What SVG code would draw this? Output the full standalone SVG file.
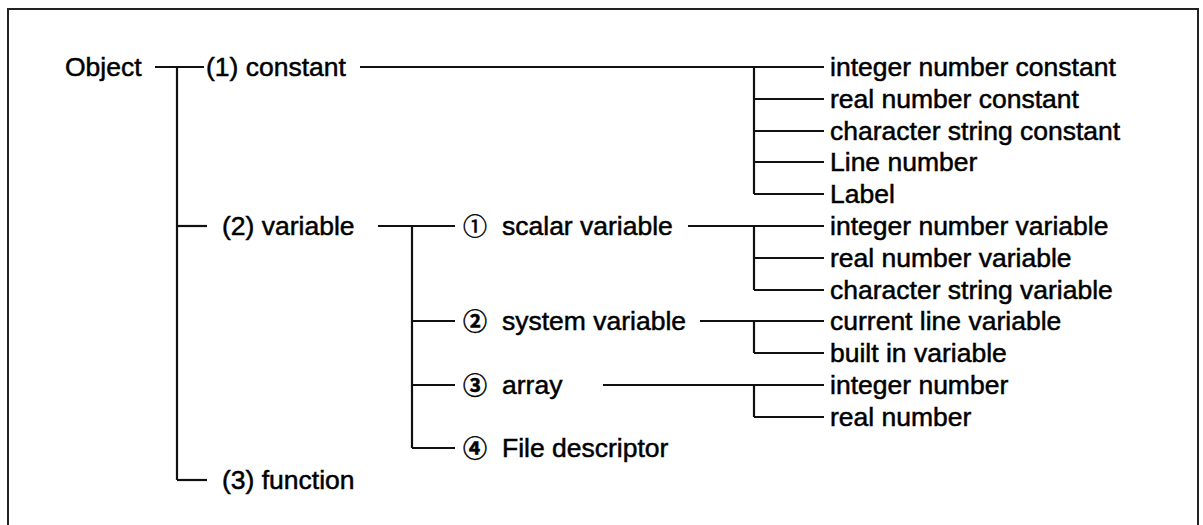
<svg xmlns="http://www.w3.org/2000/svg" width="1203" height="525" viewBox="0 0 1203 525">
<style>
text{font-family:"Liberation Sans","DejaVu Sans",sans-serif;font-size:26.5px;fill:#000;stroke:#000;stroke-width:0.5}
.cd{font-family:"Noto Sans CJK JP","DejaVu Sans",sans-serif;font-size:24px}
.cb{font-weight:bold}
.c line{stroke:#111;stroke-width:2.2;fill:none}
</style>
<rect width="1203" height="525" fill="#fff"/>
<path d="M8,525 V9 H1198 V525" stroke="#222" stroke-width="2" fill="none"/>
<g class="c" id="connectors">
<line x1="155" y1="67" x2="204" y2="67"/>
<line x1="177" y1="67" x2="177" y2="480"/>
<line x1="177" y1="226" x2="207" y2="226"/>
<line x1="177" y1="480" x2="207" y2="480"/>
<line x1="360" y1="67" x2="824" y2="67"/>
<line x1="754" y1="67" x2="754" y2="194"/>
<line x1="754" y1="99" x2="824" y2="99"/>
<line x1="754" y1="131" x2="824" y2="131"/>
<line x1="754" y1="162" x2="824" y2="162"/>
<line x1="754" y1="194" x2="824" y2="194"/>
<line x1="378" y1="226" x2="455" y2="226"/>
<line x1="412" y1="226" x2="412" y2="448"/>
<line x1="412" y1="321" x2="455" y2="321"/>
<line x1="412" y1="385" x2="455" y2="385"/>
<line x1="412" y1="448" x2="455" y2="448"/>
<line x1="688" y1="226" x2="824" y2="226"/>
<line x1="754" y1="226" x2="754" y2="290"/>
<line x1="754" y1="258" x2="824" y2="258"/>
<line x1="754" y1="290" x2="824" y2="290"/>
<line x1="700" y1="321" x2="824" y2="321"/>
<line x1="754" y1="321" x2="754" y2="353"/>
<line x1="754" y1="353" x2="824" y2="353"/>
<line x1="603" y1="385" x2="824" y2="385"/>
<line x1="754" y1="385" x2="754" y2="417"/>
<line x1="754" y1="417" x2="824" y2="417"/>
</g>
<g id="n-object"><text x="65" y="76">Object</text></g>
<g id="n-constant"><text x="206" y="76">(1) constant</text></g>
<g id="n-variable"><text x="222" y="235">(2) variable</text></g>
<g id="n-function"><text x="222" y="489">(3) function</text></g>
<g id="n-scalar"><text y="235"><tspan class="cd" x="463">①</tspan><tspan x="502">scalar variable</tspan></text></g>
<g id="n-system"><text y="330"><tspan class="cd cb" x="463">②</tspan><tspan x="502">system variable</tspan></text></g>
<g id="n-array"><text y="394"><tspan class="cd cb" x="463">③</tspan><tspan x="502">array</tspan></text></g>
<g id="n-file"><text y="457"><tspan class="cd cb" x="463">④</tspan><tspan x="502">File descriptor</tspan></text></g>
<g id="n-intconst"><text x="830" y="76">integer number constant</text></g>
<g id="n-realconst"><text x="830" y="108">real number constant</text></g>
<g id="n-strconst"><text x="830" y="140">character string constant</text></g>
<g id="n-linenum"><text x="830" y="171">Line number</text></g>
<g id="n-label"><text x="830" y="203">Label</text></g>
<g id="n-intvar"><text x="830" y="235">integer number variable</text></g>
<g id="n-realvar"><text x="830" y="267">real number variable</text></g>
<g id="n-strvar"><text x="830" y="299">character string variable</text></g>
<g id="n-curline"><text x="830" y="330">current line variable</text></g>
<g id="n-builtin"><text x="830" y="362">built in variable</text></g>
<g id="n-intnum"><text x="830" y="394">integer number</text></g>
<g id="n-realnum"><text x="830" y="426">real number</text></g>
</svg>
